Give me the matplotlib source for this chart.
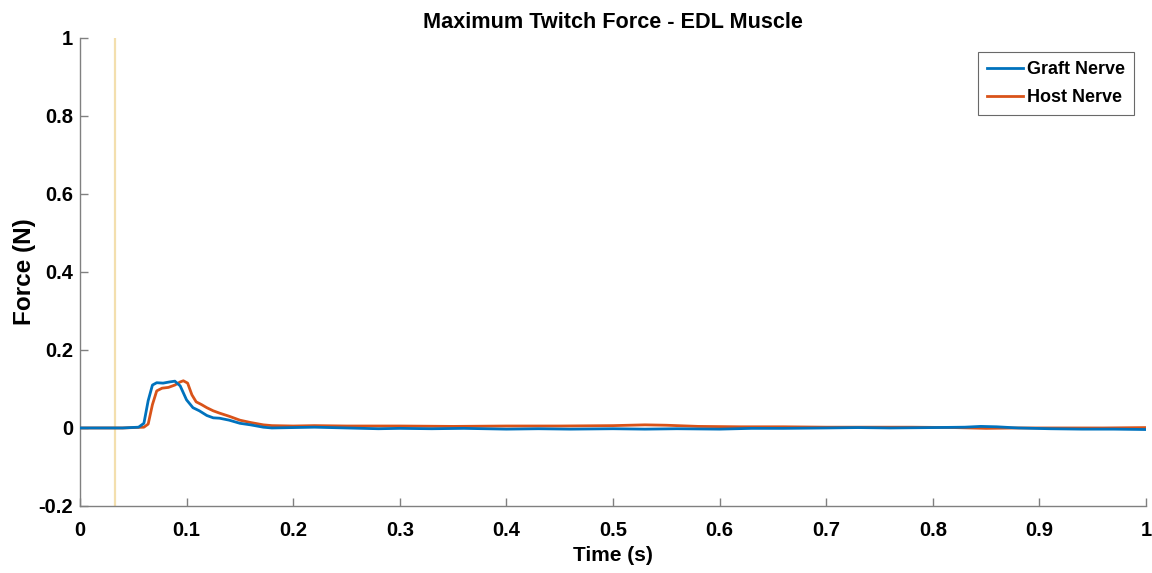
import matplotlib
matplotlib.use("Agg")
import matplotlib.pyplot as plt

plt.rcParams['font.family'] = ['Liberation Sans', 'DejaVu Sans']
plt.rcParams['font.weight'] = 'bold'

title = "Maximum Twitch Force - EDL Muscle"
xlabel = "Time (s)"
ylabel = "Force (N)"
stim_time = 0.033
series_names = ['Graft Nerve', 'Host Nerve']

graft_t = [0.0, 0.02, 0.04, 0.055, 0.060, 0.064, 0.068, 0.072, 0.078, 0.084, 0.089, 0.094, 0.100,
           0.106, 0.112, 0.119, 0.125, 0.131, 0.140, 0.150, 0.160, 0.172, 0.180, 0.20, 0.22,
           0.25, 0.28, 0.30, 0.33, 0.36, 0.40, 0.43, 0.46, 0.50, 0.53, 0.56, 0.60, 0.63,
           0.66, 0.70, 0.73, 0.76, 0.80, 0.83, 0.845, 0.86, 0.88, 0.91, 0.94, 0.97, 1.0]
graft_f = [0.0, 0.0, 0.0, 0.002, 0.012, 0.070, 0.110, 0.116, 0.115, 0.118, 0.120, 0.108, 0.072,
           0.052, 0.044, 0.032, 0.026, 0.025, 0.020, 0.012, 0.008, 0.002, 0.000, 0.001, 0.002,
           0.000, -0.002, -0.001, -0.002, -0.001, -0.003, -0.002, -0.003, -0.002, -0.003, -0.002, -0.003, -0.001,
           -0.001, 0.000, 0.001, 0.000, 0.001, 0.002, 0.004, 0.003, 0.000, -0.002, -0.003, -0.003, -0.004]

host_t = [0.0, 0.02, 0.04, 0.060, 0.064, 0.068, 0.072, 0.077, 0.083, 0.089, 0.094, 0.097, 0.101,
          0.105, 0.109, 0.114, 0.119, 0.125, 0.131, 0.140, 0.150, 0.160, 0.172, 0.180, 0.20,
          0.22, 0.25, 0.30, 0.35, 0.40, 0.45, 0.50, 0.53, 0.55, 0.58, 0.62, 0.66, 0.70,
          0.74, 0.78, 0.82, 0.85, 0.88, 0.92, 0.96, 1.0]
host_f = [0.0, 0.0, 0.0, 0.002, 0.010, 0.060, 0.095, 0.102, 0.104, 0.110, 0.118, 0.121, 0.115,
          0.085, 0.067, 0.060, 0.052, 0.044, 0.038, 0.030, 0.020, 0.014, 0.008, 0.006, 0.005,
          0.006, 0.005, 0.005, 0.004, 0.005, 0.005, 0.006, 0.008, 0.007, 0.004, 0.003, 0.003, 0.002,
          0.002, 0.002, 0.001, -0.001, 0.000, 0.000, 0.000, 0.001]

xticks = [0, 0.1, 0.2, 0.3, 0.4, 0.5, 0.6, 0.7, 0.8, 0.9, 1]
xticklabels = ['0', '0.1', '0.2', '0.3', '0.4', '0.5', '0.6', '0.7', '0.8', '0.9', '1']
yticks = [-0.2, 0, 0.2, 0.4, 0.6, 0.8, 1]
yticklabels = ['-0.2', '0', '0.2', '0.4', '0.6', '0.8', '1']

fig = plt.figure(figsize=(11.52, 5.73), dpi=100)
ax = fig.add_axes([0.0694, 0.117, 0.9254, 0.8167])

ax.axvline(stim_time, color='#f3dfae', linewidth=1.6, zorder=1)
ax.plot(graft_t, graft_f, color='#0072BD', linewidth=2, label=series_names[0], zorder=3)
ax.plot(host_t, host_f, color='#D95319', linewidth=2, label=series_names[1], zorder=2)

ax.set_xlim(0, 1)
ax.set_ylim(-0.2, 1)
ax.set_xticks(xticks)
ax.set_xticklabels(xticklabels)
ax.set_yticks(yticks)
ax.set_yticklabels(yticklabels)

for s in ['top', 'right']:
    ax.spines[s].set_visible(False)
for s in ['left', 'bottom']:
    ax.spines[s].set_color('#808080')
    ax.spines[s].set_linewidth(1)
ax.tick_params(direction='in', length=6, width=1, color='#808080', labelsize=14.5)
ax.tick_params(axis='x', pad=11)
ax.tick_params(axis='y', pad=5)
for lbl in ax.get_xticklabels() + ax.get_yticklabels():
    lbl.set_fontweight('bold')

ax.set_title(title, fontsize=15.6, fontweight='bold', pad=7)
ax.set_xlabel(xlabel, fontsize=15, fontweight='bold', labelpad=4)
ax.set_ylabel(ylabel, fontsize=17.5, fontweight='bold', labelpad=1.5)

leg = ax.legend(loc='upper right', bbox_to_anchor=(1134 / 1152, 1 - 52 / 573),
                bbox_transform=fig.transFigure, fontsize=13,
                frameon=True, fancybox=False, edgecolor='#444444', handlelength=2.0,
                handletextpad=0.2, borderpad=0.5, labelspacing=0.6, borderaxespad=0)
leg.get_frame().set_linewidth(0.8)
for line in leg.get_lines():
    line.set_linewidth(2)
for t in leg.get_texts():
    t.set_fontweight('bold')

fig.savefig('out.png', dpi=100)
